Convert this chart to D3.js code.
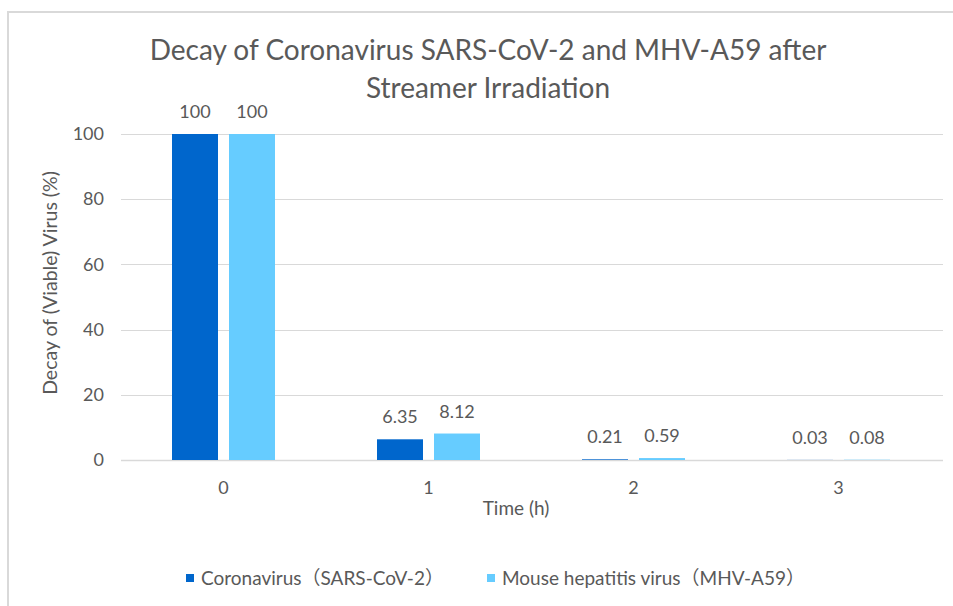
<!DOCTYPE html>
<html><head><meta charset="utf-8">
<script src="https://cdn.jsdelivr.net/npm/d3@7"></script>
<style>body{margin:0;background:#fff}svg{display:block}text{font-family:Lato,"Noto Sans CJK SC",sans-serif;fill:#595959}</style>
</head><body><div id="c"></div>
<script>
const categories = ["0","1","2","3"];
const seriesNames = ["Coronavirus（SARS-CoV-2）","Mouse hepatitis virus（MHV-A59）"];
const sarsValues = [100, 6.35, 0.21, 0.03];
const mhvValues = [100, 8.12, 0.59, 0.08];
const yTicks = [0,20,40,60,80,100];
const colors = ["#0066CC","#66CCFF"];

const W=953,H=606;
const svg=d3.select("#c").append("svg").attr("width",W).attr("height",H);
svg.append("rect").attr("x",8).attr("y",12).attr("width",W).attr("height",H).attr("fill","none").attr("stroke","#d9d9d9").attr("stroke-width",2);

const x=d3.scaleBand().domain(categories).range([121,941]).paddingInner(0).paddingOuter(0);
const y=d3.scaleLinear().domain([0,100]).range([460,134]);
const barW=46, gap=11;

const g=svg.append("g");
g.selectAll("line.grid").data(yTicks).join("line").attr("x1",121).attr("x2",943)
 .attr("y1",d=>Math.round(y(d))+0.5).attr("y2",d=>Math.round(y(d))+0.5).attr("stroke","#d9d9d9").attr("stroke-width",d=>d===0?1.5:1);

const yAxis=d3.axisLeft(y).tickValues(yTicks).tickSize(0).tickPadding(0);
const ya=svg.append("g").attr("transform","translate(104,0)").call(yAxis);
ya.select(".domain").remove();
ya.selectAll("text").style("font-size","18px").attr("fill","#595959");

const xAxis=d3.axisBottom(x).tickSize(0).tickPadding(0);
const xa=svg.append("g").attr("transform","translate(0,481)").call(xAxis);
xa.select(".domain").remove();
xa.selectAll("text").style("font-size","18px").attr("fill","#595959");

const series=[sarsValues,mhvValues];
series.forEach((vals,si)=>{
  const off = si===0 ? -(barW+gap/2) : gap/2;
  g.selectAll("rect.s"+si).data(vals).join("rect")
   .attr("x",(d,i)=>x(categories[i])+x.bandwidth()/2+off)
   .attr("y",d=>y(d)).attr("width",barW).attr("height",d=>y(0)-y(d)).attr("fill",colors[si]);
  g.selectAll("text.l"+si).data(vals).join("text")
   .attr("x",(d,i)=>x(categories[i])+x.bandwidth()/2+off+barW/2)
   .attr("y",d=>y(d)-16).attr("text-anchor","middle").style("font-size","18px").text(d=>d);
});

svg.append("text").attr("x",488).attr("y",60).attr("text-anchor","middle").style("font-size","28px").text("Decay of Coronavirus SARS-CoV-2 and MHV-A59 after");
svg.append("text").attr("x",488).attr("y",98).attr("text-anchor","middle").style("font-size","28px").text("Streamer Irradiation");

svg.append("text").attr("transform","translate(57,283) rotate(-90)").attr("text-anchor","middle").style("font-size","19.5px").text("Decay of (Viable) Virus (%)");
svg.append("text").attr("x",516).attr("y",515).attr("text-anchor","middle").style("font-size","19px").text("Time (h)");

const legX=[186,487];
seriesNames.forEach((n,i)=>{
  svg.append("rect").attr("x",legX[i]).attr("y",574).attr("width",8).attr("height",8).attr("fill",colors[i]);
  svg.append("text").attr("x",legX[i]+15).attr("y",585).style("font-size","19px").text(n);
});
</script></body></html>
